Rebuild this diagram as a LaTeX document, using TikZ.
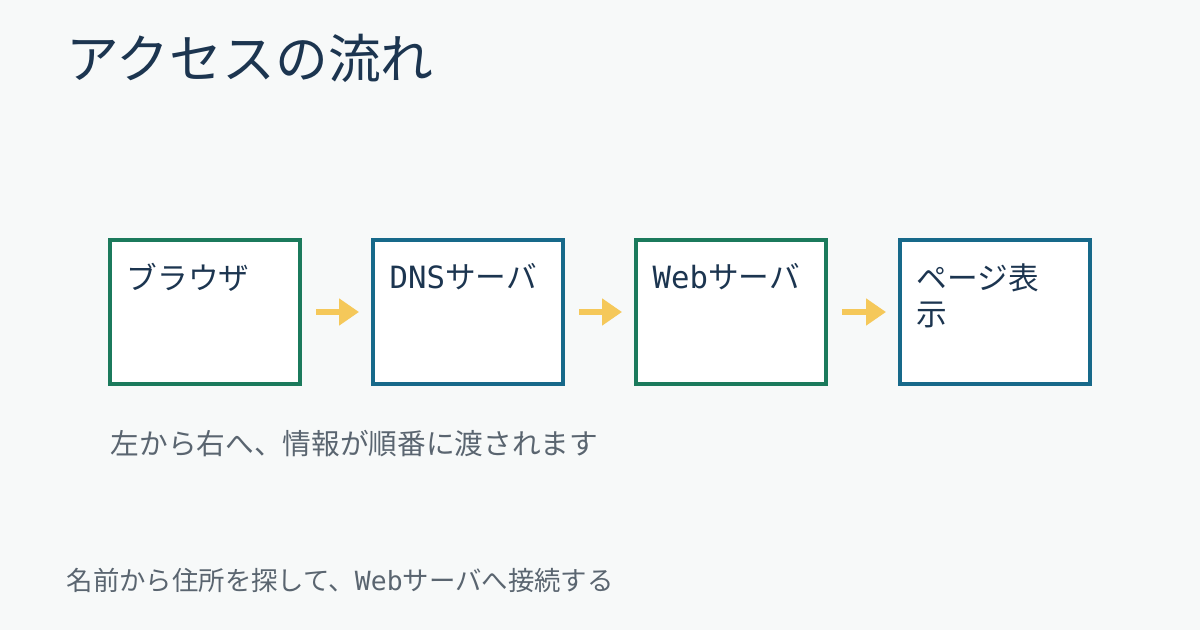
\documentclass[tikz,border=0pt]{standalone}
\usepackage{fontspec}
\setmainfont{Noto Sans CJK JP}
\newfontfamily\latmono{DejaVu Sans Mono}
\usetikzlibrary{arrows.meta,positioning}
\definecolor{bgc}{HTML}{F7F9F9}
\definecolor{titlec}{HTML}{1C3550}
\definecolor{greenc}{HTML}{1B7A5C}
\definecolor{bluec}{HTML}{17698A}
\definecolor{arrowc}{HTML}{F5C85A}
\definecolor{grayc}{HTML}{5A6570}
\tikzset{
  step box/.style={draw=#1, line width=3pt, fill=white, minimum width=142.5pt, minimum height=108pt, inner sep=0pt},
  step label/.style={anchor=north west, align=left, text=titlec, font=\fontsize{23}{27}\selectfont, text width=120pt},
  flow/.style={arrowc, line width=4.5pt, -{Triangle[length=15pt,width=19.5pt]}}
}
\begin{document}
\begin{tikzpicture}[x=0.75pt,y=0.75pt,yscale=-1,xscale=1]
\fill[bgc] (0,0) rectangle (1200,630);
\useasboundingbox (0,0) rectangle (1200,630);

% title
\node[anchor=west, text=titlec, font=\fontsize{39.6}{44}\selectfont] (title) at (62,58) {アクセスの流れ};

% steps
\node[step box=greenc] (browser) at (205,312) {};
\node[step box=bluec] (dns) at (468,312) {};
\node[step box=greenc] (web) at (731,312) {};
\node[step box=bluec] (page) at (995,312) {};

\node[step label] at (122,259) {ブラウザ};
\node[step label] at (385,259) {{\latmono DNS}サーバ};
\node[step label] at (648,259) {{\latmono Web}サーバ};
\node[step label] at (912,259) {ページ表\\示};

% connectors
\draw[flow] (browser.east) ++(14,0) -- ([xshift=-9pt]dns.west);
\draw[flow] (dns.east) ++(14,0) -- ([xshift=-9pt]web.west);
\draw[flow] (web.east) ++(14,0) -- ([xshift=-9pt]page.west);

% notes
\node[anchor=west, text=grayc, font=\fontsize{21.5}{26}\selectfont] (caption) at (106,444) {左から右へ、情報が順番に渡されます};
\node[anchor=west, text=grayc, font=\fontsize{19.8}{24}\selectfont] (note) at (62,580) {名前から住所を探して、{\latmono Web}サーバへ接続する};
\end{tikzpicture}
\end{document}
